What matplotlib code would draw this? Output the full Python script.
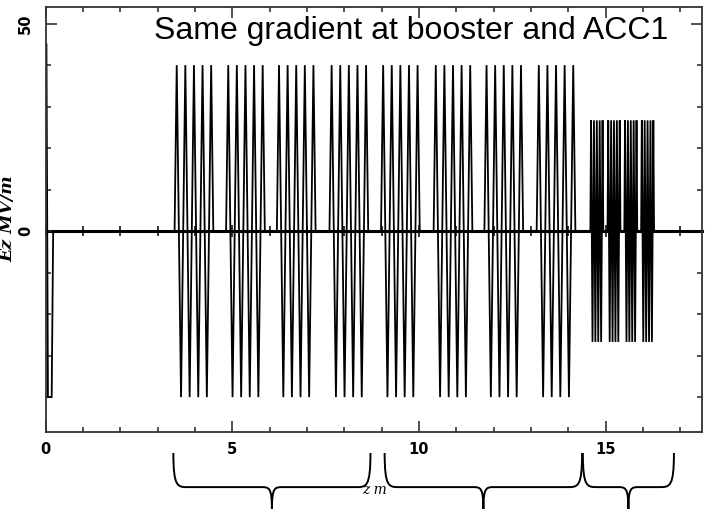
import numpy as np
import matplotlib
matplotlib.use("Agg")
import matplotlib.pyplot as plt
from matplotlib.path import Path
from matplotlib.patches import PathPatch
from matplotlib import transforms

# --- data ---
# gun cavity near z = 0
gun_z = [0.0, 0.0, 0.02, 0.04, 0.06, 0.16, 0.20]
gun_ez = [0.0, 45.0, 45.0, 0.0, -40.0, -40.0, 0.0]

# 1.3 GHz 9-cell cavities (booster + ACC1): position of first crest, crest height
tesla_first_peak = [3.51, 4.89, 6.25, 7.66, 9.04, 10.45, 11.81, 13.21]
tesla_amp = [40.0, 40.0, 40.0, 40.0, 40.0, 40.0, 40.0, 40.0]
tesla_half_cell = 0.1153

# 3.9 GHz 9-cell cavities
harm_first_peak = [14.61, 15.07, 15.52, 15.97]
harm_amp = [26.7, 26.7, 26.7, 26.7]
harm_half_cell = 0.0385

n_cells = 9
z_end = 17.59

# braces under the axis (z from, z to)
brace_left = [3.42, 9.08, 14.39]
brace_right = [8.70, 14.37, 16.83]

title = "Same gradient at booster and ACC1"


def cavity(p0, amp, h):
    zs, es = [p0 - 0.5 * h], [0.0]
    for k in range(n_cells):
        zs += [p0 + k * h, p0 + (k + 0.5) * h]
        es += [amp * (-1) ** k, 0.0]
    return zs, es


z = list(gun_z)
ez = list(gun_ez)
for p0, a in zip(tesla_first_peak, tesla_amp):
    zs, es = cavity(p0, a, tesla_half_cell)
    z += zs
    ez += es
for p0, a in zip(harm_first_peak, harm_amp):
    zs, es = cavity(p0, a, harm_half_cell)
    z += zs
    ez += es
z.append(z_end)
ez.append(0.0)

fig = plt.figure(figsize=(7.13, 5.09), dpi=100)
ax = fig.add_axes([0.0641, 0.1513, 0.9209, 0.8349])

ax.plot(z, ez, color="black", lw=1.3, solid_joinstyle="miter")

ymin, ymax = -48.4, 54.0
ax.set_xlim(0, z_end)
ax.set_ylim(ymin, ymax)

ax.set_xticks([0, 5, 10, 15])
ax.set_xticks(np.arange(0, 18), minor=True)
ax.set_yticks([0, 50])
ax.set_yticks(np.arange(-40, 51, 10), minor=True)
ax.tick_params(which="both", direction="in", top=True, right=True,
               width=1.1, color="#222222")
ax.tick_params(which="major", length=8)
ax.tick_params(which="minor", length=3.5)
ax.tick_params(axis="x", pad=7)
ax.tick_params(axis="y", pad=9)
for lab in ax.get_xticklabels():
    lab.set_fontweight("bold")
    lab.set_fontsize(10.5)
for lab in ax.get_yticklabels():
    lab.set_fontweight("bold")
    lab.set_fontsize(10.5)
    lab.set_rotation(90)
    lab.set_va("center")
for s in ax.spines.values():
    s.set_linewidth(1.3)
    s.set_color("#333333")

# axis drawn along Ez = 0
sec = ax.secondary_xaxis((0 - ymin) / (ymax - ymin))
sec.set_xticks([0, 5, 10, 15])
sec.set_xticks(np.arange(0, 18), minor=True)
sec.tick_params(which="both", direction="inout", labelbottom=False,
                labeltop=False, width=1.1)
sec.tick_params(which="major", length=8)
sec.tick_params(which="minor", length=7)
for s in sec.spines.values():
    s.set_linewidth(2.2)
    s.set_color("black")

fig.text(0.011, 0.57, "Ez MV/m", rotation=90, ha="center", va="center",
         family="DejaVu Serif", style="italic", fontweight="bold", fontsize=12.5)
fig.text(0.525, 0.037, "z m", ha="center", va="center",
         family="DejaVu Serif", style="italic", fontsize=10)
fig.text(0.937, 0.923, title, ha="right", va="baseline",
         family="Liberation Sans", fontsize=23)

# curly braces
trans = transforms.blended_transform_factory(ax.transData, fig.transFigure)
ytop, ymid, ybot = 0.110, 0.043, 0.0
for x0, x1 in zip(brace_left, brace_right):
    xm = (x0 + x1) / 2
    r, rm = 0.38, 0.28
    verts = [(x0, ytop), (x0, ymid), (x0 + 0.3 * r, ymid), (x0 + r, ymid),
             (xm - rm, ymid),
             (xm - 0.3 * rm, ymid), (xm, ymid), (xm, ybot),
             (xm, ybot),
             (xm, ymid), (xm + 0.3 * rm, ymid), (xm + rm, ymid),
             (x1 - r, ymid),
             (x1 - 0.3 * r, ymid), (x1, ymid), (x1, ytop)]
    codes = [Path.MOVETO, Path.CURVE4, Path.CURVE4, Path.CURVE4,
             Path.LINETO,
             Path.CURVE4, Path.CURVE4, Path.CURVE4,
             Path.MOVETO,
             Path.CURVE4, Path.CURVE4, Path.CURVE4,
             Path.LINETO,
             Path.CURVE4, Path.CURVE4, Path.CURVE4]
    patch = PathPatch(Path(verts, codes), transform=trans, fill=False,
                      lw=1.4, color="black", clip_on=False)
    fig.add_artist(patch)

fig.savefig("out.png", dpi=100)
